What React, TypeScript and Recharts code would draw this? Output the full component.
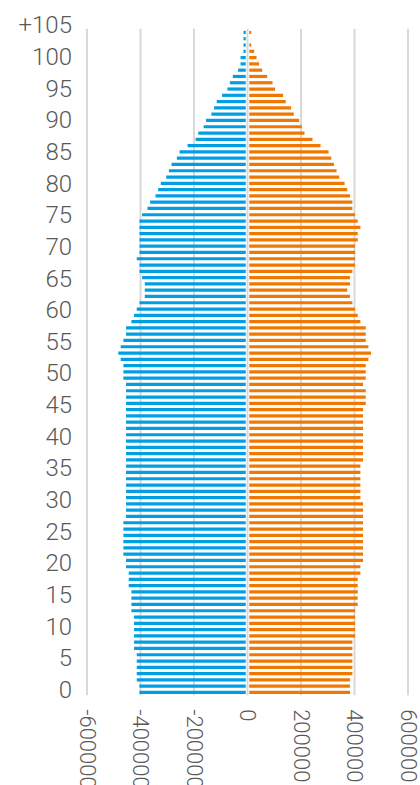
import React from 'react';
import { BarChart, Bar, XAxis, YAxis, CartesianGrid, ReferenceLine } from 'recharts';

// age groups, bottom (0) to top (+105)
const AGES = [
    0, 1, 2, 3, 4, 5, 6, 7, 8, 9, 10, 11, 12, 13, 14, 15, 16, 17, 18, 19,
    20, 21, 22, 23, 24, 25, 26, 27, 28, 29, 30, 31, 32, 33, 34, 35, 36, 37, 38, 39,
    40, 41, 42, 43, 44, 45, 46, 47, 48, 49, 50, 51, 52, 53, 54, 55, 56, 57, 58, 59,
    60, 61, 62, 63, 64, 65, 66, 67, 68, 69, 70, 71, 72, 73, 74, 75, 76, 77, 78, 79,
    80, 81, 82, 83, 84, 85, 86, 87, 88, 89, 90, 91, 92, 93, 94, 95, 96, 97, 98, 99,
    100, 101, 102, 103, 104, 105,
];

// left side (blue)
const MALE = [
    404000, 404000, 414000, 414000, 414000, 414000, 414000, 424000, 424000, 424000,
    424000, 424000, 424000, 434000, 434000, 434000, 434000, 444000, 444000, 444000,
    454000, 454000, 464000, 464000, 464000, 464000, 464000, 464000, 454000, 454000,
    454000, 454000, 454000, 454000, 454000, 454000, 454000, 454000, 454000, 454000,
    454000, 454000, 454000, 454000, 454000, 454000, 454000, 454000, 454000, 454000,
    464000, 464000, 464000, 474000, 483000, 474000, 464000, 454000, 454000, 434000,
    424000, 414000, 404000, 384000, 384000, 384000, 394000, 404000, 404000, 414000,
    404000, 404000, 404000, 404000, 404000, 404000, 394000, 374000, 364000, 344000,
    334000, 324000, 304000, 294000, 284000, 264000, 254000, 224000, 194000, 184000,
    164000, 155000, 135000, 125000, 115000, 95000, 75000, 66000, 55000, 35000,
    26000, 26000, 15000, 15000, 15000, 15000,
];

// right side (orange)
const FEMALE = [
    383000, 383000, 383000, 392000, 392000, 392000, 392000, 392000, 392000, 402000,
    402000, 402000, 402000, 402000, 412000, 412000, 412000, 412000, 412000, 422000,
    422000, 432000, 432000, 432000, 432000, 432000, 432000, 432000, 432000, 432000,
    432000, 422000, 422000, 422000, 422000, 422000, 422000, 432000, 432000, 432000,
    432000, 432000, 432000, 432000, 432000, 432000, 442000, 442000, 442000, 432000,
    442000, 442000, 442000, 452000, 462000, 452000, 442000, 442000, 442000, 422000,
    412000, 402000, 392000, 383000, 373000, 383000, 383000, 392000, 402000, 402000,
    402000, 402000, 412000, 412000, 422000, 412000, 402000, 392000, 392000, 383000,
    373000, 363000, 343000, 333000, 323000, 313000, 303000, 273000, 243000, 213000,
    203000, 193000, 173000, 163000, 143000, 133000, 103000, 93500, 73500, 55000,
    43600, 33600, 25000, 13700, 5000, 13700,
];

const X_TICKS = [-600000, -400000, -200000, 0, 200000, 400000, 600000];

const data = AGES.map((age, i) => ({ age, male: -MALE[i], female: FEMALE[i] }));

const FONT = "Roboto, 'Liberation Sans', sans-serif";

const AgeTick = (props: any) => {
    const { x, y, payload } = props;
    const age = Number(payload.value);
    // labels sit a little above their bars, more so towards the top
    const shift = 2 + age * 0.045;
    return (
        <text x={x} y={y - shift} textAnchor="end" dominantBaseline="central"
            fontFamily={FONT} fontWeight={300} fontSize={24} fill="#595959">
            {age === 105 ? '+105' : age}
        </text>
    );
};

const ValueTick = (props: any) => {
    const { x, y, payload } = props;
    return (
        <g transform={`translate(${x},${y + 14}) rotate(90)`}>
            <text x={0} y={0} textAnchor="start" dominantBaseline="central"
                fontFamily={FONT} fontWeight={300} fontSize={22} fill="#595959">
                {payload.value}
            </text>
        </g>
    );
};

export default function App() {
    return (
        <div style={{ position: 'absolute', left: 0, top: 0, width: 420, height: 785, overflow: 'hidden', background: '#fff' }}>
            <BarChart
                width={420}
                height={785}
                data={data}
                layout="vertical"
                stackOffset="sign"
                barSize={3.2}
                margin={{ top: 28.86, right: 12, bottom: 0, left: 0 }}
            >
                <CartesianGrid horizontal={false} stroke="#d9d9d9" strokeWidth={2} />
                <XAxis
                    type="number"
                    domain={[-600000, 600000]}
                    ticks={X_TICKS}
                    axisLine={false}
                    tickLine={false}
                    tickSize={0}
                    tickMargin={0}
                    height={89.86}
                    interval={0}
                    tick={<ValueTick />}
                />
                <YAxis
                    type="category"
                    dataKey="age"
                    reversed
                    width={87}
                    axisLine={false}
                    tickLine={false}
                    tickSize={0}
                    tickMargin={15}
                    interval={4}
                    tick={<AgeTick />}
                />
                <Bar dataKey="male" stackId="p" fill="#009fe3" isAnimationActive={false} />
                <Bar dataKey="female" stackId="p" fill="#f07800" isAnimationActive={false} />
                <ReferenceLine x={0} stroke="#ffffff" strokeWidth={3.5} />
                <ReferenceLine x={0} stroke="#d9d9d9" strokeWidth={2} />
            </BarChart>
        </div>
    );
}
